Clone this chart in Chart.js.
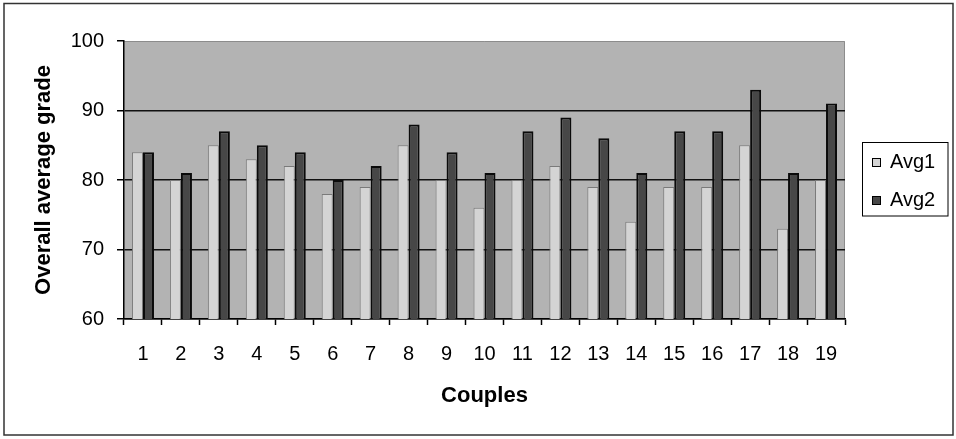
<!DOCTYPE html>
<html>
<head>
<meta charset="utf-8">
<script src="https://cdn.jsdelivr.net/npm/chart.js@4/dist/chart.umd.min.js"></script>
<style>
  html, body { margin: 0; padding: 0; background: #ffffff; }
  #wrap { width: 956px; height: 439px; position: relative; }
</style>
</head>
<body>
<div id="wrap"><canvas id="chart" width="956" height="439"></canvas></div>
<script>
// Grades per couple
const couples = ['1','2','3','4','5','6','7','8','9','10','11','12','13','14','15','16','17','18','19'];
const avg1 = [84, 80, 85, 83, 82, 78, 79, 85, 80, 76, 80, 82, 79, 74, 79, 79, 85, 73, 80];
const avg2 = [84, 81, 87, 85, 84, 80, 82, 88, 84, 81, 87, 89, 86, 81, 87, 87, 93, 81, 91];
const seriesNames = ['Avg1', 'Avg2'];
const yTicks = [60, 70, 80, 90, 100];

const FONT = '"Liberation Sans", Arial, Helvetica, sans-serif';

// Grey plot background, light frame on top/right, and outer chart border
const frame = {
  id: 'frame',
  beforeDraw(chart) {
    const { ctx, chartArea: a } = chart;
    ctx.save();
    ctx.fillStyle = '#ffffff';
    ctx.fillRect(0, 0, chart.width, chart.height);
    ctx.fillStyle = '#b3b3b3';
    ctx.fillRect(a.left, a.top, a.right - a.left, a.bottom - a.top);
    ctx.strokeStyle = '#8c8c8c';
    ctx.lineWidth = 1;
    ctx.beginPath();
    ctx.moveTo(a.left, a.top + 0.5);
    ctx.lineTo(a.right - 0.5, a.top + 0.5);
    ctx.lineTo(a.right - 0.5, a.bottom);
    ctx.stroke();
    ctx.restore();
  },
  afterDraw(chart) {
    const { ctx } = chart;
    ctx.save();
    ctx.strokeStyle = '#333333';
    ctx.lineWidth = 1.5;
    ctx.strokeRect(4, 3.5, 949, 431.5);
    ctx.restore();
  }
};

// Boxed legend on the right
const boxedLegend = {
  id: 'boxedLegend',
  afterDraw(chart) {
    const { ctx } = chart;
    const x0 = 862.5, y0 = 142.5, w = 85.5, h = 73.5;
    ctx.save();
    ctx.strokeStyle = '#000000';
    ctx.lineWidth = 1;
    ctx.strokeRect(x0, y0, w, h);
    chart.data.datasets.forEach((ds, i) => {
      const cy = 162.5 + i * 38;
      ctx.fillStyle = ds.backgroundColor;
      ctx.fillRect(872, cy - 4.5, 9, 9);
      ctx.strokeStyle = '#000000';
      ctx.lineWidth = 1;
      ctx.strokeRect(872.5, cy - 4, 8, 8);
      ctx.fillStyle = '#000000';
      ctx.font = '20px ' + FONT;
      ctx.textAlign = 'left';
      ctx.textBaseline = 'middle';
      ctx.fillText(ds.label, 890, cy);
    });
    ctx.restore();
  }
};

new Chart(document.getElementById('chart'), {
  type: 'bar',
  data: {
    labels: couples,
    datasets: [
      {
        label: seriesNames[0],
        data: avg1,
        backgroundColor: '#d4d4d4',
        borderColor: '#7a7a7a',
        borderWidth: 1,
        borderSkipped: false
      },
      {
        label: seriesNames[1],
        data: avg2,
        backgroundColor: '#474747',
        borderColor: '#0a0a0a',
        borderWidth: 2,
        borderSkipped: false
      }
    ]
  },
  options: {
    responsive: false,
    animation: false,
    layout: { padding: { left: 0, top: 41, right: 111, bottom: 0 } },
    datasets: {
      bar: { categoryPercentage: 0.58, barPercentage: 1.0 }
    },
    plugins: {
      legend: { display: false },
      tooltip: { enabled: false }
    },
    scales: {
      x: {
        offset: true,
        grid: {
          offset: true,
          drawOnChartArea: false,
          drawTicks: true,
          tickLength: 6,
          tickColor: '#000000',
          tickWidth: 1.5
        },
        border: { display: true, color: '#000000', width: 1.5 },
        ticks: {
          color: '#000000',
          font: { family: FONT, size: 20 },
          padding: 17,
          maxRotation: 0,
          autoSkip: false
        },
        title: {
          display: true,
          text: 'Couples',
          color: '#000000',
          font: { family: FONT, size: 22, weight: 'bold' },
          padding: { top: 0, bottom: 30 }
        },
        afterFit(scale) { scale.height = 120; }
      },
      y: {
        min: yTicks[0],
        max: yTicks[yTicks.length - 1],
        afterBuildTicks(scale) { scale.ticks = yTicks.map(v => ({ value: v })); },
        grid: {
          color: (c) => (c.tick && c.tick.value === 100) ? 'rgba(0,0,0,0)' : '#111111',
          lineWidth: 1.5,
          drawTicks: true,
          tickLength: 7,
          tickColor: '#000000',
          tickWidth: 1.5
        },
        border: { display: true, color: '#000000', width: 1.5 },
        ticks: {
          color: '#000000',
          font: { family: FONT, size: 20 },
          padding: 13
        },
        title: {
          display: true,
          text: 'Overall average grade',
          color: '#000000',
          font: { family: FONT, size: 22, weight: 'bold' },
          padding: { top: 31, bottom: 0 }
        },
        afterFit(scale) { scale.width = 124; }
      }
    }
  },
  plugins: [frame, boxedLegend]
});
</script>
</body>
</html>
